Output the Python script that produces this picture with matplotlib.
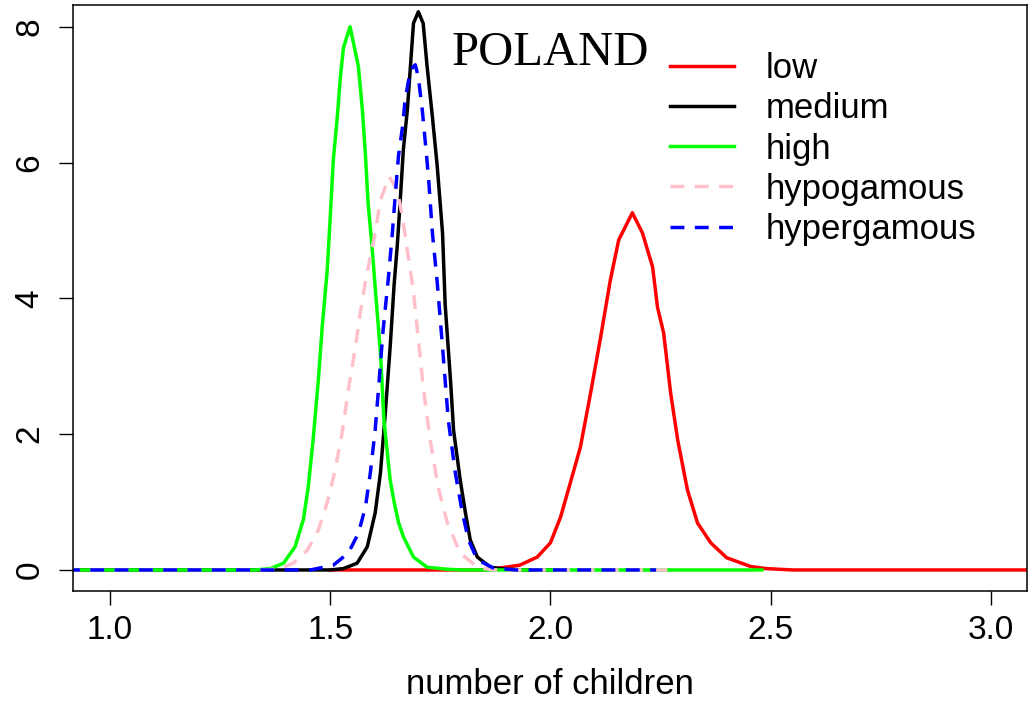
import matplotlib
matplotlib.use('Agg')

import matplotlib.pyplot as plt

# values (number of children, density)
low_x = [1.50, 1.85, 1.886, 1.93, 1.97, 2.0, 2.023, 2.045, 2.068, 2.091, 2.114, 2.136, 2.155, 2.186,
         2.209, 2.232, 2.243, 2.257, 2.273, 2.289, 2.311, 2.334, 2.364, 2.40, 2.455, 2.49, 2.55, 3.10]
low_y = [0, 0, 0.03, 0.07, 0.19, 0.40, 0.78, 1.28, 1.81, 2.60, 3.43, 4.27, 4.86, 5.26,
         4.96, 4.46, 3.87, 3.49, 2.60, 1.91, 1.18, 0.69, 0.40, 0.18, 0.05, 0.02, 0, 0]

medium_x = [0.90, 1.50, 1.53, 1.561, 1.584, 1.602, 1.614, 1.625, 1.636, 1.645, 1.652, 1.659, 1.666,
            1.675, 1.682, 1.689, 1.70, 1.711, 1.72, 1.732, 1.743, 1.755, 1.761, 1.773, 1.78, 1.795,
            1.807, 1.818, 1.834, 1.864, 1.90, 1.95, 2.0]
medium_y = [0, 0, 0.02, 0.10, 0.34, 0.84, 1.43, 2.31, 3.28, 4.20, 4.76, 5.45, 6.19,
            6.77, 7.41, 8.05, 8.22, 8.05, 7.41, 6.67, 5.94, 4.96, 3.90, 2.80, 2.06, 1.33,
            0.84, 0.44, 0.19, 0.04, 0.01, 0, 0]

high_x = [0.90, 1.33, 1.364, 1.394, 1.42, 1.439, 1.45, 1.461, 1.473, 1.482, 1.493, 1.50, 1.507,
          1.516, 1.523, 1.53, 1.545, 1.564, 1.573, 1.58, 1.586, 1.595, 1.604, 1.614, 1.622, 1.636,
          1.645, 1.655, 1.666, 1.689, 1.72, 1.766, 1.80, 2.48]
high_y = [0, 0, 0.02, 0.10, 0.34, 0.74, 1.22, 1.91, 2.80, 3.60, 4.40, 5.20, 6.04,
          6.67, 7.26, 7.69, 8.00, 7.41, 6.77, 6.10, 5.40, 4.75, 4.00, 3.20, 2.20, 1.33,
          1.00, 0.70, 0.49, 0.19, 0.04, 0.01, 0, 0]

hypo_x = [0.90, 1.35, 1.386, 1.416, 1.448, 1.473, 1.493, 1.511, 1.527, 1.541, 1.557, 1.568, 1.58,
          1.591, 1.602, 1.614, 1.634, 1.652, 1.664, 1.675, 1.688, 1.698, 1.711, 1.727, 1.745,
          1.766, 1.795, 1.834, 1.87, 2.28]
hypo_y = [0, 0, 0.02, 0.10, 0.29, 0.59, 0.99, 1.47, 2.02, 2.65, 3.28, 3.78, 4.25,
          4.61, 4.96, 5.45, 5.79, 5.60, 5.20, 4.71, 4.15, 3.53, 2.70, 1.91, 1.22,
          0.69, 0.25, 0.04, 0, 0]

hyper_x = [0.90, 1.455, 1.507, 1.541, 1.564, 1.58, 1.591, 1.602, 1.61, 1.62, 1.632, 1.641, 1.648,
           1.655, 1.664, 1.67, 1.682, 1.693, 1.70, 1.709, 1.716, 1.723, 1.732, 1.743, 1.755,
           1.768, 1.784, 1.80, 1.814, 1.834, 1.87, 1.92, 2.24]
hyper_y = [0, 0, 0.07, 0.25, 0.54, 0.93, 1.43, 2.06, 2.70, 3.53, 4.30, 4.96, 5.55,
           6.10, 6.52, 6.92, 7.36, 7.44, 7.26, 6.77, 6.29, 5.79, 4.96, 4.23, 3.28,
           2.21, 1.43, 0.84, 0.44, 0.15, 0.03, 0, 0]

x_ticks = [1.0, 1.5, 2.0, 2.5, 3.0]
y_ticks = [0, 2, 4, 6, 8]

plt.rcParams['font.family'] = ['Liberation Sans', 'DejaVu Sans']

fig = plt.figure(figsize=(10.36, 7.04), dpi=100)
ax = fig.add_axes([0.0705, 0.1605, 0.9208, 0.8324])

lw = 2.5
dash = (0, (4, 3))
ax.plot(low_x, low_y, color='red', linewidth=lw, label='low')
ax.plot(medium_x, medium_y, color='black', linewidth=lw, label='medium')
ax.plot(high_x, high_y, color='#00ff00', linewidth=lw, label='high')
ax.plot(hypo_x, hypo_y, color='pink', linewidth=lw, linestyle=dash, label='hypogamous')
ax.plot(hyper_x, hyper_y, color='blue', linewidth=lw, linestyle=dash, label='hypergamous')

ax.set_xlim(0.916, 3.082)
ax.set_ylim(-0.31, 8.32)
ax.set_xticks(x_ticks)
ax.set_xticklabels(['1.0', '1.5', '2.0', '2.5', '3.0'])
ax.set_yticks(y_ticks)
ax.set_yticklabels([str(v) for v in y_ticks], rotation=90, va='center')
ax.tick_params(direction='out', length=10, width=1, labelsize=24, pad=7)
ax.tick_params(axis='y', pad=10)
for s in ax.spines.values():
    s.set_linewidth(1.1)

ax.set_xlabel('number of children', fontsize=25, labelpad=16)

ax.text(1.775, 7.44, 'POLAND', family=['Liberation Serif', 'DejaVu Serif'], fontsize=35, va='baseline')

ax.legend(loc='upper left', bbox_to_anchor=(0.611, 0.943), frameon=False, fontsize=25,
          handlelength=1.85, handletextpad=0.92, labelspacing=0.205, borderaxespad=0)

plt.savefig('out.png', dpi=100)
